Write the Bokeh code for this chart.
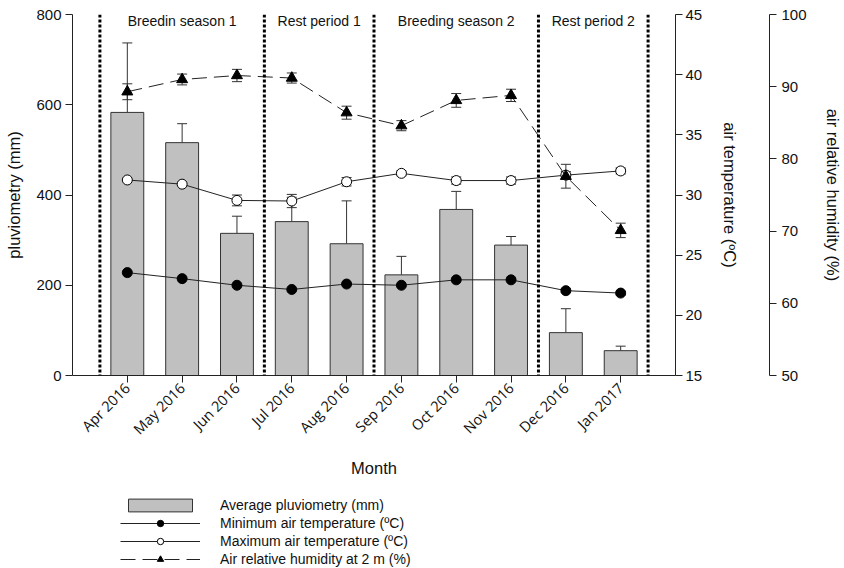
import math
from bokeh.plotting import figure
from bokeh.layouts import column
from bokeh.models import (Range1d, LinearAxis, FixedTicker, Whisker, TeeHead,
                          ColumnDataSource, Span, Label, Legend, LegendItem)
from bokeh.embed import file_html
from bokeh.resources import INLINE

# ---------------- data ----------------
months = ["Apr 2016", "May 2016", "Jun 2016", "Jul 2016", "Aug 2016",
          "Sep 2016", "Oct 2016", "Nov 2016", "Dec 2016", "Jan 2017"]
pluvio = [583, 516, 315, 341, 292, 223, 368, 289, 95, 55]
pluvio_err = [154, 42, 38, 54, 95, 41, 40, 19, 53, 10]
tmin = [23.55, 23.05, 22.5, 22.15, 22.6, 22.5, 22.95, 22.95, 22.05, 21.85]
tmin_err = [0.15, 0.15, 0.15, 0.15, 0.15, 0.15, 0.15, 0.15, 0.15, 0.15]
tmax = [31.25, 30.9, 29.55, 29.5, 31.1, 31.8, 31.2, 31.2, 31.65, 32.0]
tmax_err = [0.35, 0.3, 0.45, 0.55, 0.35, 0.2, 0.3, 0.3, 0.3, 0.25]
rh = [89.3, 91.0, 91.55, 91.2, 86.4, 84.6, 88.1, 88.8, 77.6, 70.1]
rh_err = [1.1, 0.75, 0.85, 0.7, 0.9, 0.7, 0.95, 0.85, 1.65, 1.0]
periods = ["Breedin season 1", "Rest period 1", "Breeding season 2", "Rest period 2"]
period_first = [0, 3, 5, 8]
period_last = [2, 4, 7, 9]
legend_labels = ["Average pluviometry (mm)", "Minimum air temperature (ºC)",
                 "Maximum air temperature (ºC)", "Air relative humidity at 2 m (%)"]

FONT = "Liberation Sans"
xs = list(range(len(months)))

src = ColumnDataSource(dict(
    x=xs, pluvio=pluvio,
    p_lo=pluvio, p_hi=[v + e for v, e in zip(pluvio, pluvio_err)],
    tmin=tmin, tmin_lo=[v - e for v, e in zip(tmin, tmin_err)],
    tmin_hi=[v + e for v, e in zip(tmin, tmin_err)],
    tmax=tmax, tmax_lo=[v - e for v, e in zip(tmax, tmax_err)],
    tmax_hi=[v + e for v, e in zip(tmax, tmax_err)],
    rh=rh, rh_lo=[v - e for v, e in zip(rh, rh_err)],
    rh_hi=[v + e for v, e in zip(rh, rh_err)],
))

p = figure(width=844, height=480, x_range=Range1d(-1, 10), y_range=Range1d(0, 800),
           output_backend="svg", toolbar_location=None,
           min_border_left=72, min_border_right=167, min_border_top=14, min_border_bottom=105)
p.extra_y_ranges = {"temp": Range1d(15, 45), "rh": Range1d(50, 100)}
p.outline_line_color = None
p.xgrid.visible = False
p.ygrid.visible = False

AX = "#222222"

def style_axis(ax, label_size="15px"):
    ax.axis_line_color = AX
    ax.major_tick_line_color = AX
    ax.minor_tick_line_color = None
    ax.major_tick_in = 0
    ax.major_tick_out = 7
    ax.major_label_text_font = FONT
    ax.major_label_text_font_size = label_size
    ax.major_label_text_color = "#111111"
    ax.axis_label_text_font = FONT
    ax.axis_label_text_font_size = "16.5px"
    ax.axis_label_text_font_style = "normal"
    ax.axis_label_text_color = "#111111"

# left axis
yl = p.yaxis[0]
style_axis(yl)
yl.ticker = FixedTicker(ticks=[0, 200, 400, 600, 800])
yl.axis_label = "pluviometry (mm)"
yl.major_label_standoff = 4
yl.axis_label_standoff = 10

# bottom axis
xa = p.xaxis[0]
style_axis(xa, "14.5px")
xa.major_label_text_font = "Open Sans"
xa.ticker = FixedTicker(ticks=xs)
xa.major_label_overrides = {i: m for i, m in enumerate(months)}
xa.major_label_orientation = math.pi / 4
xa.major_label_standoff = 3
xa.axis_label = "Month"
xa.axis_label_standoff = 11

# right axes
ta = LinearAxis(y_range_name="temp", axis_label="air temperature (ºC)",
                ticker=FixedTicker(ticks=[15, 20, 25, 30, 35, 40, 45]))
style_axis(ta)
ta.major_label_standoff = 3
ta.axis_label_standoff = 16
p.add_layout(ta, "right")

# invisible spacer between the two right axes
spacer = LinearAxis(y_range_name="temp", ticker=FixedTicker(ticks=[30]))
spacer.axis_line_color = None
spacer.major_tick_line_color = "white"
spacer.minor_tick_line_color = None
spacer.major_tick_in = 0
spacer.major_tick_out = 24
spacer.major_label_standoff = 0
spacer.major_label_overrides = {30: " "}
spacer.major_label_text_color = "white"
spacer.major_label_text_font_size = "1px"
p.add_layout(spacer, "right")

ha = LinearAxis(y_range_name="rh", axis_label="air relative humidity (%)",
                ticker=FixedTicker(ticks=[50, 60, 70, 80, 90, 100]))
style_axis(ha)
ha.major_label_standoff = 5
ha.axis_label_standoff = 14
p.add_layout(ha, "right")

# bars + error
BAR = dict(fill_color="#c0c0c0", line_color="#333333", line_width=1)
MIN = dict(marker="circle", size=10, fill_color="black", line_color="black")
MAX = dict(marker="circle", size=10, fill_color="white", line_color="black", line_width=1)
RHM = dict(marker="triangle", size=11, fill_color="black", line_color="black")
LN = dict(line_color="#222222", line_width=1)
DASH = "15 7"

bars = p.vbar(x="x", top="pluvio", bottom=0, width=0.6, source=src, **BAR)
wb = Whisker(base="x", lower="p_lo", upper="p_hi", source=src, level="underlay",
             line_color="#333333", line_width=1, lower_head=None,
             upper_head=TeeHead(size=10, line_color="#333333", line_width=1))
p.add_layout(wb)

for lo, hi, rng in [("tmin_lo", "tmin_hi", "temp"), ("tmax_lo", "tmax_hi", "temp"),
                    ("rh_lo", "rh_hi", "rh")]:
    w = Whisker(base="x", lower=lo, upper=hi, source=src, y_range_name=rng,
                level="underlay", line_color="#333333", line_width=1,
                lower_head=TeeHead(size=10, line_color="#333333", line_width=1),
                upper_head=TeeHead(size=10, line_color="#333333", line_width=1))
    p.add_layout(w)

p.line("x", "tmin", source=src, y_range_name="temp", **LN)
p.scatter("x", "tmin", source=src, y_range_name="temp", **MIN)
p.line("x", "tmax", source=src, y_range_name="temp", **LN)
p.scatter("x", "tmax", source=src, y_range_name="temp", **MAX)
p.line("x", "rh", source=src, y_range_name="rh", line_dash=DASH, **LN)
p.scatter("x", "rh", source=src, y_range_name="rh", **RHM)

# period separators and labels
bounds = [f - 0.5 for f in period_first] + [period_last[-1] + 0.5]
for b in bounds:
    p.add_layout(Span(location=b, dimension="height", line_color="black",
                      line_width=3, line_dash="3 2"))
for name, a, b in zip(periods, period_first, period_last):
    p.add_layout(Label(x=(a + b) / 2, y=800, text=name, text_align="center",
                       text_baseline="middle", y_offset=-6, text_font=FONT,
                       text_font_size="14px", text_color="#111111"))

# ---------------- legend figure ----------------
lg = figure(width=844, height=88, x_range=Range1d(0, 1), y_range=Range1d(0, 1),
            output_backend="svg", toolbar_location=None,
            min_border_left=0, min_border_right=0, min_border_top=0, min_border_bottom=0)
lg.axis.visible = False
lg.xgrid.visible = False
lg.ygrid.visible = False
lg.outline_line_color = None
# placeholder data far outside the visible range: only the legend swatches are seen
off = ColumnDataSource(dict(x=[-50, -49], y=[-50, -49]))
r_bar = lg.vbar(x="x", top="y", width=0.1, source=off, **BAR)
r_l1 = lg.line("x", "y", source=off, **LN)
r_s1 = lg.scatter("x", "y", source=off, **MIN)
r_l2 = lg.line("x", "y", source=off, **LN)
r_s2 = lg.scatter("x", "y", source=off, **MAX)
r_l3 = lg.line("x", "y", source=off, line_dash=DASH, **LN)
r_s3 = lg.scatter("x", "y", source=off, **RHM)

legend = Legend(items=[
    LegendItem(label=legend_labels[0], renderers=[r_bar]),
    LegendItem(label=legend_labels[1], renderers=[r_l1, r_s1]),
    LegendItem(label=legend_labels[2], renderers=[r_l2, r_s2]),
    LegendItem(label=legend_labels[3], renderers=[r_l3, r_s3]),
], location=(48, 1), padding=0, margin=0, spacing=2, border_line_color=None,
    background_fill_alpha=0, glyph_width=80, glyph_height=16, label_height=16,
    label_standoff=20, label_text_font=FONT, label_text_font_size="14px",
    label_text_color="#111111")
lg.add_layout(legend, "center")

layout = column(p, lg, spacing=0)
open("out.html", "w").write(file_html(layout, INLINE))
